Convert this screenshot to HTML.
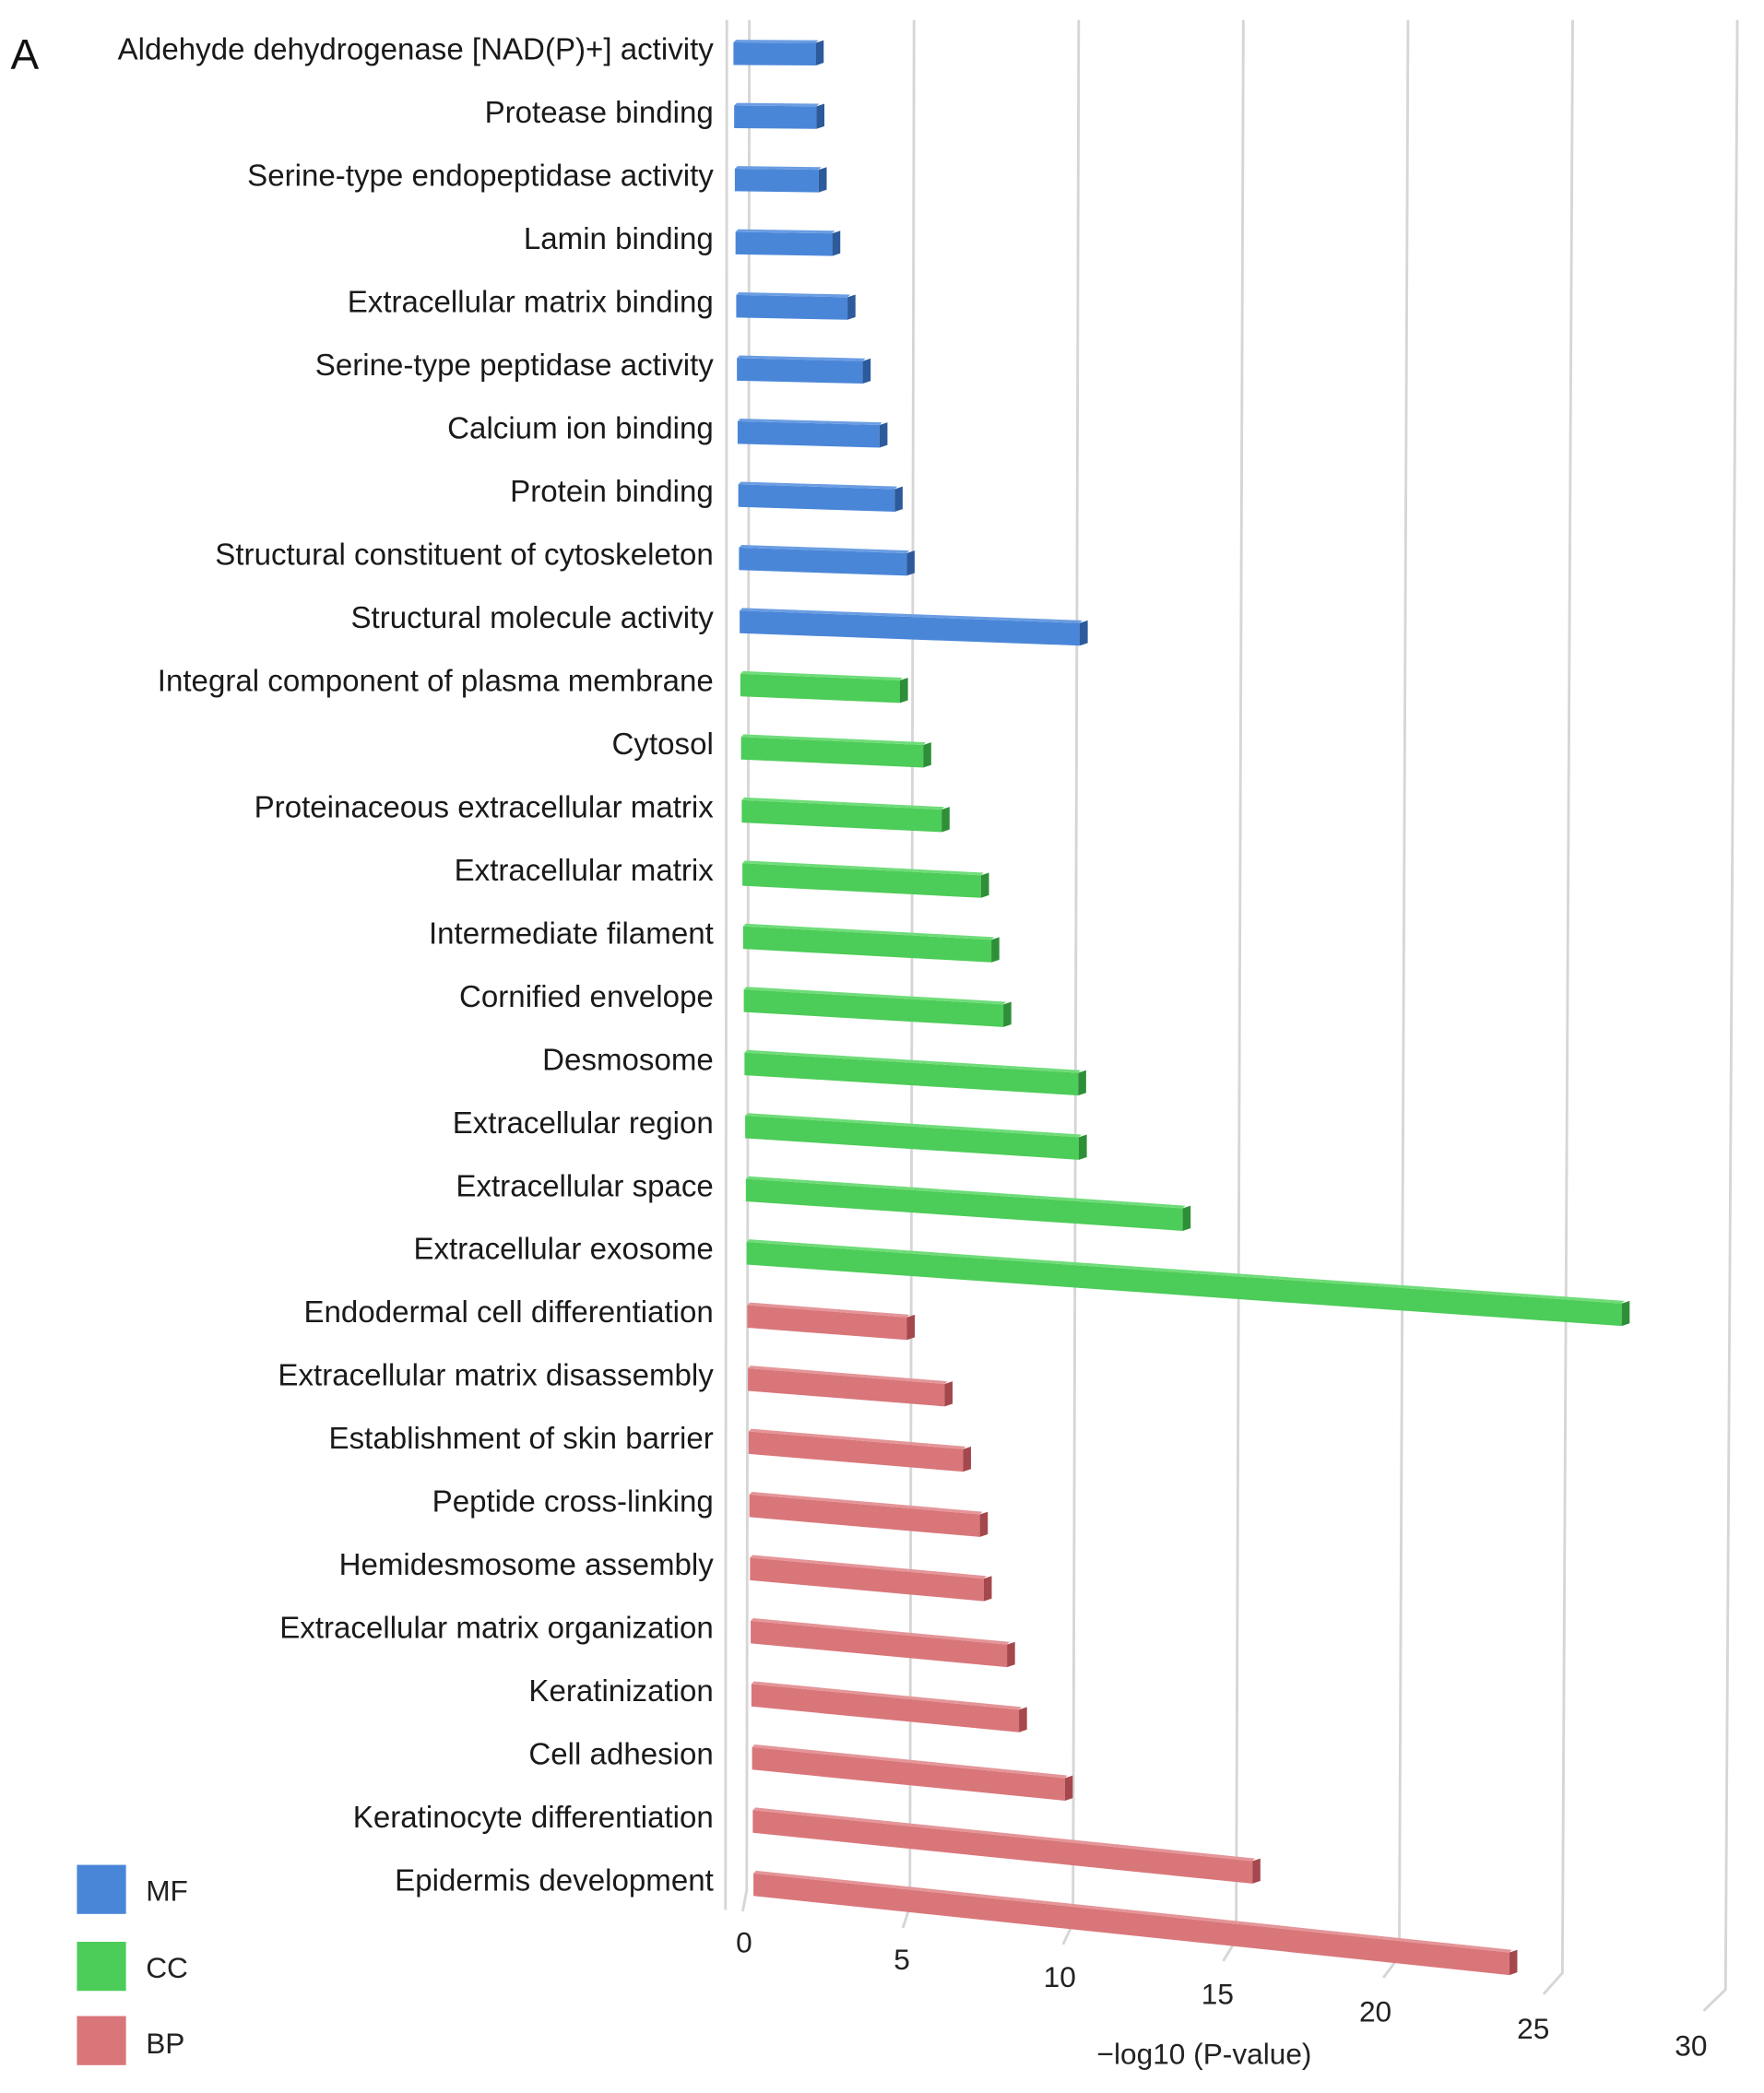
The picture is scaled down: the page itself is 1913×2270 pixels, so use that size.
<!DOCTYPE html>
<html><head><meta charset="utf-8"><style>
html,body{margin:0;padding:0;background:#fff;}
svg{display:block;font-family:"Liberation Sans",sans-serif;}
</style></head><body>
<svg id="chart" width="1913" height="2270" viewBox="0 0 1330 1578" preserveAspectRatio="none" xmlns="http://www.w3.org/2000/svg">
<text x="8" y="52" font-size="32" fill="#111">A</text>
<g id="grid"></g><g id="bars"></g><g id="labels"></g><g id="ticks"></g>
<text x="908" y="1556" font-size="22" text-anchor="middle" fill="#222">−log10 (P-value)</text>
<g>
<rect x="58" y="1406" width="37" height="37" fill="#4a86d8"/>
<text x="110" y="1433" font-size="22" fill="#222">MF</text>
<rect x="58" y="1464" width="37" height="37" fill="#4ccc58"/>
<text x="110" y="1491" font-size="22" fill="#222">CC</text>
<rect x="58" y="1520" width="37" height="37" fill="#d9767a"/>
<text x="110" y="1548" font-size="22" fill="#222">BP</text>
</g>
</svg>
<script>
const categories = ["Aldehyde dehydrogenase [NAD(P)+] activity","Protease binding","Serine-type endopeptidase activity","Lamin binding","Extracellular matrix binding","Serine-type peptidase activity","Calcium ion binding","Protein binding","Structural constituent of cytoskeleton","Structural molecule activity","Integral component of plasma membrane","Cytosol","Proteinaceous extracellular matrix","Extracellular matrix","Intermediate filament","Cornified envelope","Desmosome","Extracellular region","Extracellular space","Extracellular exosome","Endodermal cell differentiation","Extracellular matrix disassembly","Establishment of skin barrier","Peptide cross-linking","Hemidesmosome assembly","Extracellular matrix organization","Keratinization","Cell adhesion","Keratinocyte differentiation","Epidermis development"];
const values = [2.8,2.8,2.85,3.25,3.7,4.15,4.65,5.1,5.45,10.8,5.2,5.9,6.45,7.65,7.95,8.3,10.6,10.6,13.8,27.4,5.2,6.35,6.9,7.4,7.5,8.2,8.55,9.95,15.75,23.7];
const groups = ["MF","MF","MF","MF","MF","MF","MF","MF","MF","MF","CC","CC","CC","CC","CC","CC","CC","CC","CC","CC","BP","BP","BP","BP","BP","BP","BP","BP","BP","BP"];
const tickValues = [0,5,10,15,20,25,30];
const tickLabels = ["0","5","10","15","20","25","30"];

const NS="http://www.w3.org/2000/svg";
const colors={MF:["#4a86d8","#2c5a9a","#6a9de2"],CC:["#4ccc58","#2e8f38","#6fdc79"],BP:["#d9767a","#a5484d","#e49598"]};
function mk(tag,parent){const e=document.createElementNS(NS,tag);document.getElementById(parent).appendChild(e);return e;}
function rowY(i){return 32+i*47.6;}
function rowX0(i){return 553+i*0.52;}
function barLen(v){return v*24.3;}
function rowSlope(i){return 0.005+i*0.0034;}
function gridTopX(v){return 565+v*24.83;}
function gridBotX(v){return 563+v*24.6;}
function gridBotY(v){return 1425+v*2.5;}

let lw=mk('line','grid');


lw.setAttribute('x1',548);lw.setAttribute('y1',15);lw.setAttribute('x2',547);lw.setAttribute('y2',1440);
lw.setAttribute('stroke','#d6d6d6');lw.setAttribute('stroke-width','2');

tickValues.forEach((v,j)=>{
  const bx=gridBotX(v),by=gridBotY(v);
  const p=mk('polyline','grid');
  
  
  p.setAttribute('points',`${gridTopX(v)},15 ${bx},${by} ${bx-3-v*0.45},${by+16}`);
  p.setAttribute('fill','none');p.setAttribute('stroke','#d6d6d6');p.setAttribute('stroke-width','2');
  const t=mk('text','ticks');
  
  
  t.setAttribute('x',561+v*23.8);t.setAttribute('y',1472+v*2.6);
  t.setAttribute('font-size','22');t.setAttribute('text-anchor','middle');t.setAttribute('fill','#222');
  t.textContent=tickLabels[j];
});

categories.forEach((c,i)=>{
  const x0=rowX0(i),y=rowY(i),L=barLen(values[i]),s=rowSlope(i);
  const xe=x0+L,ye=y+L*s,h=17,col=colors[groups[i]];
  const f=mk('polygon','bars');
  
  
  f.setAttribute('points',`${x0},${y} ${xe-6},${ye} ${xe-6},${ye+h} ${x0},${y+h}`);
  f.setAttribute('fill',col[0]);
  const tp=mk('polygon','bars');
  
  
  tp.setAttribute('points',`${x0},${y} ${xe-6},${ye} ${xe-4},${ye-2} ${x0+2},${y-2}`);
  tp.setAttribute('fill',col[2]);
  const sd=mk('polygon','bars');
  
  
  sd.setAttribute('points',`${xe-6},${ye} ${xe},${ye-2} ${xe},${ye+h-2} ${xe-6},${ye+h}`);
  sd.setAttribute('fill',col[1]);
  const t=mk('text','labels');
  
  
  t.setAttribute('x',538);t.setAttribute('y',y+13);
  t.setAttribute('font-size','23');t.setAttribute('text-anchor','end');t.setAttribute('fill','#1a1a1a');
  t.setAttribute('textLength','');
  t.removeAttribute('textLength');
  t.textContent=c;
});
</script>
</body></html>
